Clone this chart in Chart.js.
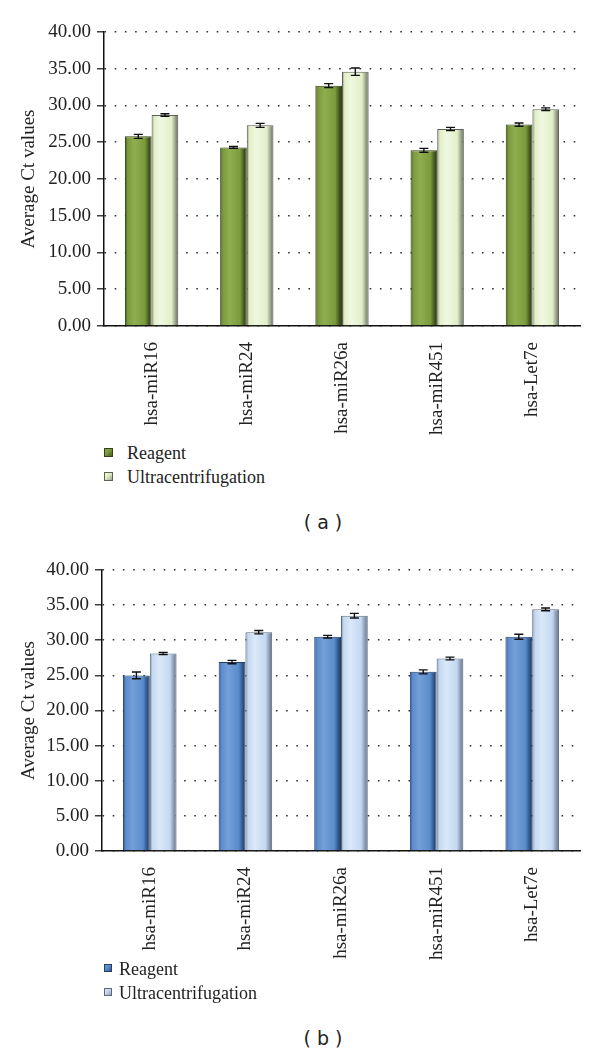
<!DOCTYPE html>
<html>
<head>
<meta charset="utf-8">
<script src="https://cdn.jsdelivr.net/npm/chart.js@4"></script>
<style>
  html, body { margin: 0; padding: 0; background: #fff; width: 600px; height: 1056px; overflow: hidden; }
  .wrap { position: absolute; left: 0; width: 600px; }
  canvas { display: block; }
  .legend { position: absolute; font-family: "Liberation Serif", serif; font-size: 18px; color: #222; }
  .legend .row { position: absolute; white-space: nowrap; height: 20px; line-height: 20px; }
  .legend .sw { position: absolute; top: 5px; }
  .legend .tx { position: absolute; top: 0; }
  .cap { position: absolute; width: 600px; left: 23px; text-align: center; font-family: "DejaVu Sans", sans-serif; font-size: 19px; color: #222; }
</style>
</head>
<body>
<div class="wrap" style="top:0;height:440px;"><canvas id="cA" width="600" height="440"></canvas></div>
<div class="legend" id="legA" style="left:0;top:0;"></div>
<div class="cap" style="top:511px;">( a )</div>

<div class="wrap" style="top:540px;height:425px;"><canvas id="cB" width="600" height="425"></canvas></div>
<div class="legend" id="legB" style="left:0;top:0;"></div>
<div class="cap" style="top:1027px;">( b )</div>

<script>
// ---- data ----
const categories = ["hsa-miR16", "hsa-miR24", "hsa-miR26a", "hsa-miR451", "hsa-Let7e"];
const seriesNames = ["Reagent", "Ultracentrifugation"];
const yTicks = [0, 5, 10, 15, 20, 25, 30, 35, 40];

// panel (a)
const reagentA = [25.8, 24.3, 32.7, 23.9, 27.4];
const ultraA   = [28.7, 27.3, 34.6, 26.8, 29.5];
const errReagentA = [0.27, 0.13, 0.27, 0.27, 0.22];
const errUltraA   = [0.18, 0.27, 0.5, 0.22, 0.18];

// panel (b)
const reagentB = [25.0, 26.9, 30.5, 25.5, 30.5];
const ultraB   = [28.1, 31.15, 33.5, 27.4, 34.4];
const errReagentB = [0.47, 0.24, 0.19, 0.28, 0.35];
const errUltraB   = [0.15, 0.24, 0.33, 0.2, 0.2];

// ---- styles ----
const CAT_PCT = 0.56;
const palettes = {
  A: [
    { dark: "#3c4d1c", base: "#7a9a3c", light: "#8fae50", edge: "#34431a" },
    { dark: "#8d9380", base: "#e2efc7", light: "#f1f8e2", edge: "#5d6253" }
  ],
  B: [
    { dark: "#2c4f80", base: "#5a8bcc", light: "#74a0d8", edge: "#243f66" },
    { dark: "#7f90a8", base: "#c3d8f1", light: "#dbe8f8", edge: "#5c6b80" }
  ]
};

function barGradient(pal, dsIndex) {
  return function (ctx) {
    const chart = ctx.chart;
    const xs = chart.scales && chart.scales.x;
    if (!xs || ctx.dataIndex === undefined) return pal.base;
    const catW = xs.width / categories.length;
    const bw = catW * CAT_PCT / 2;
    const c = xs.getPixelForValue(ctx.dataIndex);
    const x0 = dsIndex === 0 ? c - bw : c;
    if (!isFinite(x0) || !isFinite(bw) || bw <= 0) return pal.base;
    const g = chart.ctx.createLinearGradient(x0, 0, x0 + bw, 0);
    g.addColorStop(0, pal.dark);
    g.addColorStop(0.1, pal.base);
    g.addColorStop(0.35, pal.light);
    g.addColorStop(0.75, pal.base);
    g.addColorStop(0.92, pal.dark);
    g.addColorStop(1, pal.edge);
    return g;
  };
}

const errorBarPlugin = {
  id: "errorBars",
  afterDatasetsDraw(chart) {
    const ctx = chart.ctx;
    const ys = chart.scales.y;
    ctx.save();
    ctx.strokeStyle = "#111";
    ctx.lineWidth = 1.4;
    chart.data.datasets.forEach((ds, di) => {
      const meta = chart.getDatasetMeta(di);
      meta.data.forEach((bar, i) => {
        const v = ds.data[i], e = ds.errors[i];
        const yt = ys.getPixelForValue(v + e);
        const yb = ys.getPixelForValue(v - e);
        const x = bar.x, cw = 4.5;
        ctx.beginPath();
        ctx.moveTo(x, yt); ctx.lineTo(x, yb);
        ctx.moveTo(x - cw, yt); ctx.lineTo(x + cw, yt);
        ctx.moveTo(x - cw, yb); ctx.lineTo(x + cw, yb);
        ctx.stroke();
      });
    });
    ctx.restore();
  }
};

function makeChart(id, key, reagent, ultra, errR, errU, cfg) {
  const pal = palettes[key];
  return new Chart(document.getElementById(id), {
    type: "bar",
    data: {
      labels: categories,
      datasets: [
        { label: seriesNames[0], data: reagent, errors: errR,
          backgroundColor: barGradient(pal[0], 0), borderColor: pal[0].edge, borderWidth: 1 },
        { label: seriesNames[1], data: ultra, errors: errU,
          backgroundColor: barGradient(pal[1], 1), borderColor: pal[1].edge, borderWidth: 1 }
      ]
    },
    options: {
      responsive: false,
      animation: false,
      layout: { padding: { top: cfg.top, right: 20, bottom: 0, left: 0 } },
      plugins: { legend: { display: false }, tooltip: { enabled: false } },
      datasets: { bar: { categoryPercentage: CAT_PCT, barPercentage: 1.0 } },
      scales: {
        x: {
          grid: { display: false },
          border: { display: true, color: "#111", width: 1.5 },
          ticks: { color: "#222", font: { family: "Liberation Serif", size: 19 },
                   minRotation: 90, maxRotation: 90, padding: 8, autoSkip: false },
          afterFit: s => { s.height = cfg.xh; }
        },
        y: {
          min: 0, max: 40,
          afterBuildTicks: s => { s.ticks = yTicks.map(v => ({ value: v })); },
          grid: { color: "#333", lineWidth: 1.6, tickLength: 7, tickColor: "#111", tickWidth: 1.2,
                  tickBorderDash: [], drawTicks: true },
          border: { display: true, color: "#111", width: 1.5, dash: [1.6, 8.6] },
          ticks: { color: "#222", font: { family: "Liberation Serif", size: 19 }, padding: 6,
                   callback: v => Number(v).toFixed(2) },
          title: { display: true, text: "Average Ct values", color: "#222",
                   font: { family: "Liberation Serif", size: 19 }, padding: { top: 18, bottom: 0 } },
          afterFit: s => { s.width = cfg.yw; }
        }
      }
    },
    plugins: [errorBarPlugin]
  });
}

makeChart("cA", "A", reagentA, ultraA, errReagentA, errUltraA, { top: 32, xh: 114, yw: 104 });
makeChart("cB", "B", reagentB, ultraB, errReagentB, errUltraB, { top: 30, xh: 114, yw: 102 });

function buildLegend(id, key, top, sqX, sqSize, txX) {
  const el = document.getElementById(id);
  palettes[key].forEach((p, i) => {
    const row = document.createElement("div");
    row.className = "row";
    row.style.top = (top + i * 24 - 10) + "px";
    row.style.left = "0px";
    const sw = document.createElement("div");
    sw.className = "sw";
    sw.style.left = sqX + "px";
    sw.style.width = sqSize + "px";
    sw.style.height = sqSize + "px";
    sw.style.background = "linear-gradient(135deg, " + p.light + " 0%, " + p.base + " 45%, " + p.dark + " 100%)";
    sw.style.boxShadow = "inset 0 0 0 1px " + p.edge;
    const tx = document.createElement("div");
    tx.className = "tx";
    tx.style.left = txX + "px";
    tx.textContent = seriesNames[i];
    row.appendChild(sw); row.appendChild(tx);
    el.appendChild(row);
  });
}
buildLegend("legA", "A", 453, 104, 9, 127);
buildLegend("legB", "B", 969, 104, 8, 119);
</script>
</body>
</html>
